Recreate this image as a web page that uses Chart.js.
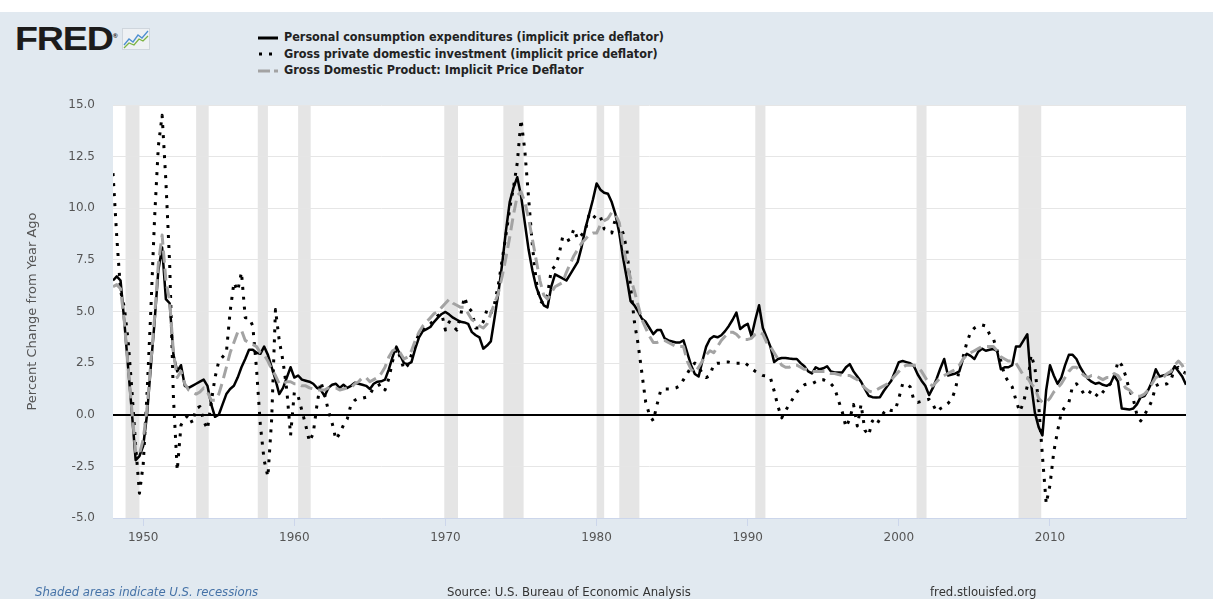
<!DOCTYPE html>
<html>
<head>
<meta charset="utf-8">
<script src="https://cdn.jsdelivr.net/npm/chart.js@4.4.1/dist/chart.umd.min.js"></script>
<style>
  html, body { margin: 0; padding: 0; background: #fff; }
  #wrap { position: relative; width: 1213px; height: 599px; overflow: hidden; }
  #panel { position: absolute; left: 0; top: 12px; width: 1213px; height: 587px; background: #e1e9f0; }
  #chartBox { position: absolute; left: 0; top: 0; width: 1213px; height: 599px; }
  .logo { position: absolute; left: 15px; top: 20px; font: bold 33px 'Liberation Sans', Arial, sans-serif; color: #1b1b1b; letter-spacing: -1px; transform: scaleX(1.14); transform-origin: left top; }
  .logo sup { font-size: 6px; letter-spacing: 0; }
  .icon { position: absolute; left: 122px; top: 28px; }
  .legend { position: absolute; left: 258px; top: 29px; font: bold 12.5px 'DejaVu Sans Condensed', 'DejaVu Sans', sans-serif; color: #222; }
  .legend div { height: 16.5px; line-height: 16.5px; white-space: nowrap; }
  .legend svg { vertical-align: middle; margin-right: 6px; }
  .foot { position: absolute; top: 584px; font: 13px 'DejaVu Sans Condensed', 'DejaVu Sans', sans-serif; color: #333; white-space: nowrap; }
</style>
</head>
<body>
<div id="wrap">
  <div id="panel"></div>
  <div class="logo">FRED<sup>®</sup></div>
  <svg class="icon" width="28" height="22" viewBox="0 0 28 22">
    <rect x="0.5" y="0.5" width="27" height="21" fill="#eef1f4" stroke="#cfd6dd"/>
    <polyline points="2,17 7,11 11,14 16,7 20,10 26,3" fill="none" stroke="#4f8fd0" stroke-width="1.3"/>
    <polyline points="2,20 7,15 12,17 17,11 21,13 26,8" fill="none" stroke="#7cb342" stroke-width="1.3"/>
  </svg>
  <div class="legend">
    <div><svg width="20" height="6"><line x1="0" y1="3" x2="20" y2="3" stroke="#000" stroke-width="3"/></svg>Personal consumption expenditures (implicit price deflator)</div>
    <div><svg width="20" height="6"><line x1="1" y1="3" x2="20" y2="3" stroke="#000" stroke-width="3" stroke-dasharray="3,7"/></svg>Gross private domestic investment (implicit price deflator)</div>
    <div><svg width="20" height="6"><line x1="0" y1="3" x2="20" y2="3" stroke="#a3a3a3" stroke-width="3" stroke-dasharray="12,4"/></svg>Gross Domestic Product: Implicit Price Deflator</div>
  </div>
  <div id="chartBox"><canvas id="chart" width="1213" height="599"></canvas></div>
  <div class="foot" style="left:35px;color:#4572a7;font-style:italic;">Shaded areas indicate U.S. recessions</div>
  <div class="foot" style="left:447px;">Source: U.S. Bureau of Economic Analysis</div>
  <div class="foot" style="left:930px;">fred.stlouisfed.org</div>
</div>
<script>
// quarterly, 1948 Q1 .. 2019 Q1, percent change from year ago
const START_YEAR = 1948;

const pce = [
  6.5, 6.7, 6.5, 4.5,     2.3, 0.1, -2.2, -2.0,   -1.5, 0.0, 2.3, 4.5,    7.0, 8.1, 5.6, 5.4,
  2.9, 2.1, 2.4, 1.4,     1.3, 1.4, 1.5, 1.6,     1.7, 1.4, 0.5, -0.1,    0.0, 0.5, 1.0, 1.25,
  1.4, 1.8, 2.3, 2.7,     3.15, 3.15, 3.0, 2.95,  3.3, 2.9, 2.3, 1.7,     1.0, 1.3, 1.8, 2.3,
  1.8, 1.9, 1.7, 1.65,    1.6, 1.5, 1.3, 1.2,     0.9, 1.3, 1.45, 1.5,    1.3, 1.45, 1.3, 1.4,
  1.55, 1.5, 1.45, 1.4,   1.25, 1.5, 1.6, 1.62,   1.7, 2.2, 2.8, 3.3,     2.9, 2.5, 2.45, 2.55,
  3.2, 3.75, 4.05, 4.15,  4.25, 4.5, 4.7, 4.88,   4.98, 4.85, 4.7, 4.6,   4.5, 4.47, 4.4, 4.0,
  3.85, 3.75, 3.2, 3.35,  3.55, 4.7, 5.9, 7.3,    8.9, 10.3, 11.0, 11.5,  10.6, 9.3, 8.0, 7.0,
  6.2, 5.7, 5.3, 5.2,     6.2, 6.8, 6.7, 6.6,     6.5, 6.8, 7.1, 7.4,     8.1, 9.0, 9.7, 10.4,
  11.2, 10.9, 10.75, 10.7, 10.3, 9.7, 8.8, 7.6,   6.6, 5.5, 5.3, 5.0,     4.65, 4.5, 4.2, 3.9,
  4.1, 4.1, 3.7, 3.6,     3.55, 3.5, 3.5, 3.6,    3.0, 2.4, 1.97, 1.85,   2.6, 3.3, 3.67, 3.8,
  3.75, 3.85, 4.05, 4.3,  4.6, 4.95, 4.15, 4.3,   4.4, 3.8, 4.6, 5.3,     4.2, 3.75, 3.3, 2.55,
  2.7, 2.75, 2.75, 2.72,  2.7, 2.7, 2.5, 2.35,    2.1, 2.0, 2.3, 2.2,     2.25, 2.35, 2.1, 2.05,
  2.05, 2.05, 2.3, 2.45,  2.1, 1.85, 1.6, 1.25,   0.92, 0.85, 0.84, 0.85, 1.15, 1.4, 1.65, 2.1,
  2.55, 2.6, 2.55, 2.5,   2.35, 1.95, 1.65, 1.4,  0.95, 1.3, 1.75, 2.25,  2.7, 1.9, 1.95, 2.0,
  2.1, 2.7, 2.95, 2.85,   2.7, 3.05, 3.2, 3.1,    3.15, 3.18, 3.1, 2.2,   2.3, 2.3, 2.4, 3.3,
  3.3, 3.6, 3.9, 1.5,     0.1, -0.6, -1.0, 1.2,   2.4, 1.9, 1.5, 1.8,     2.4, 2.9, 2.9, 2.7,
  2.3, 2.0, 1.75, 1.6,    1.5, 1.55, 1.45, 1.4,   1.5, 1.9, 1.6, 0.3,     0.28, 0.25, 0.3, 0.5,
  0.85, 0.9, 1.2, 1.6,    2.2, 1.85, 1.9, 1.95,   2.0, 2.35, 2.1, 1.85,   1.45
];

const gpdi = [
  11.7, 8.6, 6.0, 5.2,    3.6, 1.2, -1.5, -3.8,   -2.4, 1.0, 5.0, 9.5,    13.0, 14.5, 11.3, 7.3,
  0.8, -2.7, -0.5, -0.2,  0.0, -0.4, 0.3, 0.4,    -0.3, -0.7, 0.6, 1.8,   2.6, 2.8, 3.0, 5.0,
  6.4, 6.0, 6.9, 4.7,     4.7, 4.3, 2.2, -0.5,    -2.2, -3.0, -0.2, 5.1,  3.6, 2.6, 1.2, -1.0,
  1.1, 0.9, 0.2, -0.5,    -1.3, -0.9, 0.5, 1.6,   1.0, 0.2, -0.4, -1.2,   -0.9, -0.5, -0.2, 0.5,
  0.7, 0.8, 0.8, 0.85,    1.0, 1.3, 1.4, 1.5,     1.2, 1.75, 2.6, 3.2,    2.8, 2.2, 2.4, 2.9,
  3.5, 3.9, 4.1, 4.3,     4.4, 4.6, 4.8, 4.9,     4.1, 4.5, 4.3, 4.1,     4.8, 5.7, 5.2, 5.0,
  4.2, 4.2, 4.5, 5.1,     4.9, 5.4, 6.3, 7.5,     8.7, 10.0, 11.0, 12.2,  14.3, 12.8, 10.5, 8.2,
  6.5, 5.5, 5.4, 5.8,     7.0, 7.2, 7.7, 8.6,     8.4, 8.5, 9.0, 8.5,     8.7, 8.9, 9.7, 9.5,
  9.7, 9.6, 9.0, 8.9,     8.8, 9.5, 9.2, 8.8,     8.0, 6.2, 4.5, 3.4,     2.0, 0.6, 0.0, -0.3,
  0.5, 1.2, 1.25, 1.25,   1.25, 1.3, 1.4, 1.7,    2.0, 2.3, 2.5, 2.3,     2.0, 1.8, 1.9, 2.45,
  2.5, 2.5, 2.55, 2.55,   2.5, 2.5, 2.5, 2.55,    2.4, 2.25, 2.1, 2.0,    1.9, 1.88, 1.8, 1.15,
  0.4, -0.15, 0.2, 0.5,   0.8, 1.1, 1.3, 1.45,    1.5, 1.5, 1.6, 1.7,     1.7, 1.6, 1.5, 1.3,
  0.7, 0.15, -0.6, -0.2,  0.5, -0.55, 0.5, -0.75, -1.0, -0.3, -0.5, -0.2, 0.1, 0.3, 0.2, 0.2,
  0.8, 1.5, 1.5, 1.35,    0.7, 0.6, 0.65, 0.7,    0.75, 0.5, 0.15, 0.3,   0.4, 0.55, 0.75, 1.25,
  2.2, 2.8, 3.5, 4.0,     4.2, 4.3, 4.35, 4.3,    3.9, 3.7, 3.1, 2.6,     1.9, 1.6, 1.35, 0.7,
  0.15, 0.6, 1.4, 2.9,    2.3, 0.5, -2.0, -4.3,   -3.4, -1.8, -0.8, 0.1,  0.4, 0.6, 1.4, 1.5,
  1.3, 1.0, 0.95, 1.2,    1.0, 0.85, 1.1, 1.3,    1.5, 1.8, 2.6, 2.4,     1.9, 1.2, 0.8, 0.0,
  -0.3, 0.0, 0.3, 0.7,    1.4, 1.5, 1.45, 1.5,    1.7, 2.2, 2.3, 2.1,     2.0
];

const gdp = [
  6.2, 6.3, 6.1, 4.5,     2.3, 0.2, -1.8, -1.9,   -1.2, 0.3, 2.5, 4.7,    7.3, 8.7, 6.5, 5.5,
  3.0, 1.8, 2.1, 1.5,     1.2, 1.1, 1.0, 1.1,     1.3, 1.1, 0.7, 0.7,     1.0, 1.6, 2.3, 3.0,
  3.5, 4.0, 4.1, 3.6,     3.5, 3.4, 3.3, 3.0,     2.9, 2.6, 2.2, 1.9,     1.5, 1.5, 1.6, 1.6,
  1.5, 1.5, 1.4, 1.4,     1.3, 1.25, 1.2, 1.2,    1.2, 1.3, 1.3, 1.3,     1.2, 1.25, 1.3, 1.3,
  1.5, 1.6, 1.8, 1.8,     1.6, 1.7, 1.8, 2.0,     2.3, 2.8, 3.1, 3.2,     3.0, 2.7, 2.8, 3.1,
  3.6, 4.0, 4.3, 4.5,     4.7, 4.9, 5.0, 5.2,     5.4, 5.6, 5.4, 5.3,     5.2, 5.2, 4.9, 4.6,
  4.5, 4.3, 4.2, 4.4,     4.9, 5.4, 5.9, 6.7,     7.6, 8.6, 9.7, 10.6,    10.8, 10.3, 9.5, 8.5,
  7.5, 6.5, 5.8, 5.6,     5.9, 6.2, 6.3, 6.4,     6.9, 7.3, 7.7, 8.0,     8.3, 8.5, 8.7, 8.8,
  8.8, 9.2, 9.4, 9.5,     9.8, 9.7, 9.3, 8.2,     7.3, 6.6, 6.0, 5.3,     4.6, 4.2, 3.8, 3.5,
  3.5, 3.6, 3.6, 3.5,     3.4, 3.3, 3.3, 3.3,     2.6, 2.2, 2.05, 2.3,    2.6, 2.9, 3.1, 3.0,
  3.3, 3.6, 3.8, 4.0,     4.0, 3.9, 3.7, 3.65,    3.65, 3.7, 3.9, 4.0,    3.9, 3.5, 3.3, 3.0,
  2.7, 2.4, 2.3, 2.3,     2.4, 2.4, 2.3, 2.2,     2.2, 2.1, 2.1, 2.1,     2.1, 2.1, 2.0, 2.0,
  1.95, 1.9, 1.9, 1.9,    1.8, 1.7, 1.5, 1.3,     1.15, 1.1, 1.2, 1.3,    1.4, 1.5, 1.7, 1.9,
  2.1, 2.3, 2.4, 2.4,     2.4, 2.3, 2.1, 1.8,     1.5, 1.4, 1.6, 1.8,     1.9, 2.0, 2.1, 2.2,
  2.4, 2.7, 2.9, 3.0,     3.1, 3.2, 3.3, 3.3,     3.3, 3.3, 3.1, 2.8,     2.7, 2.6, 2.6, 2.5,
  2.2, 1.9, 1.8, 1.5,     1.3, 0.8, 0.6, 0.6,     0.8, 1.1, 1.3, 1.5,     1.8, 2.1, 2.3, 2.3,
  2.1, 1.9, 1.8, 1.9,     1.9, 1.8, 1.7, 1.8,     1.8, 2.0, 1.9, 1.6,     1.3, 1.2, 1.0, 0.9,
  0.9, 1.0, 1.2, 1.5,     1.8, 1.9, 1.8, 2.0,     2.1, 2.4, 2.6, 2.4,     2.0
];

const yearTicks = [1950, 1960, 1970, 1980, 1990, 2000, 2010];
const valueTicks = [-5, -2.5, 0, 2.5, 5, 7.5, 10, 12.5, 15];

// NBER recessions, peak month .. trough month as decimal years
const recessions = [
  [1948.83, 1949.75], [1953.5, 1954.33], [1957.58, 1958.25], [1960.25, 1961.08],
  [1969.92, 1970.83], [1973.83, 1975.17], [1980.0, 1980.5], [1981.5, 1982.83],
  [1990.5, 1991.17], [2001.17, 2001.83], [2007.92, 2009.42]
];

const quarterDates = pce.map((_, i) => START_YEAR + i / 4);
const toPoints = arr => arr.map((v, i) => ({ x: quarterDates[i], y: v }));

const recessionShade = {
  id: 'recessionShade',
  beforeDraw(chart) {
    const { ctx, chartArea: a, scales: { x } } = chart;
    ctx.save();
    ctx.fillStyle = '#ffffff';
    ctx.fillRect(a.left, a.top, a.width, a.height);
    ctx.fillStyle = '#e5e5e5';
    recessions.forEach(([s, e]) => {
      const x0 = x.getPixelForValue(s);
      const x1 = x.getPixelForValue(e);
      ctx.fillRect(x0, a.top, x1 - x0, a.height);
    });
    ctx.restore();
  }
};

const tickFont = { family: "'DejaVu Sans', sans-serif", size: 12 };

new Chart(document.getElementById('chart'), {
  type: 'line',
  data: {
    datasets: [
      {
        label: 'Gross Domestic Product: Implicit Price Deflator',
        data: toPoints(gdp),
        borderColor: '#a3a3a3',
        borderWidth: 3,
        borderDash: [12, 6],
        order: 0
      },
      {
        label: 'Gross private domestic investment (implicit price deflator)',
        data: toPoints(gpdi),
        borderColor: '#000',
        borderWidth: 3,
        borderDash: [3, 7],
        borderCapStyle: 'butt',
        order: 1
      },
      {
        label: 'Personal consumption expenditures (implicit price deflator)',
        data: toPoints(pce),
        borderColor: '#000',
        borderWidth: 2.5,
        order: 2
      }
    ]
  },
  options: {
    responsive: false,
    animation: false,
    layout: { padding: { left: 0, right: 27, top: 105, bottom: 51 } },
    elements: { point: { radius: 0 }, line: { tension: 0, borderJoinStyle: 'round' } },
    plugins: { legend: { display: false }, tooltip: { enabled: false } },
    scales: {
      x: {
        type: 'linear',
        min: START_YEAR,
        max: 2019,
        afterBuildTicks: s => { s.ticks = yearTicks.map(v => ({ value: v })); },
        afterFit: s => { s.height = 30; },
        ticks: { color: '#555', font: tickFont, padding: 5, maxRotation: 0, callback: v => String(v) },
        grid: { drawOnChartArea: false, drawTicks: true, tickLength: 8, color: '#ccd6eb' },
        border: { color: '#ccd6eb' }
      },
      y: {
        min: -5,
        max: 15,
        afterBuildTicks: s => { s.ticks = valueTicks.map(v => ({ value: v })); },
        afterFit: s => { s.width = 113; },
        ticks: { color: '#555', font: tickFont, padding: 18, callback: v => Number(v).toFixed(1) },
        grid: {
          drawTicks: false,
          color: c => (c.tick && c.tick.value === 0 ? '#000' : '#e6e6e6'),
          lineWidth: c => (c.tick && c.tick.value === 0 ? 2 : 1)
        },
        border: { display: false },
        title: {
          display: true,
          text: 'Percent Change from Year Ago',
          color: '#555',
          font: { family: "'DejaVu Sans', sans-serif", size: 13 },
          padding: { top: 25, bottom: 0 }
        }
      }
    }
  },
  plugins: [recessionShade]
});
</script>
</body>
</html>
